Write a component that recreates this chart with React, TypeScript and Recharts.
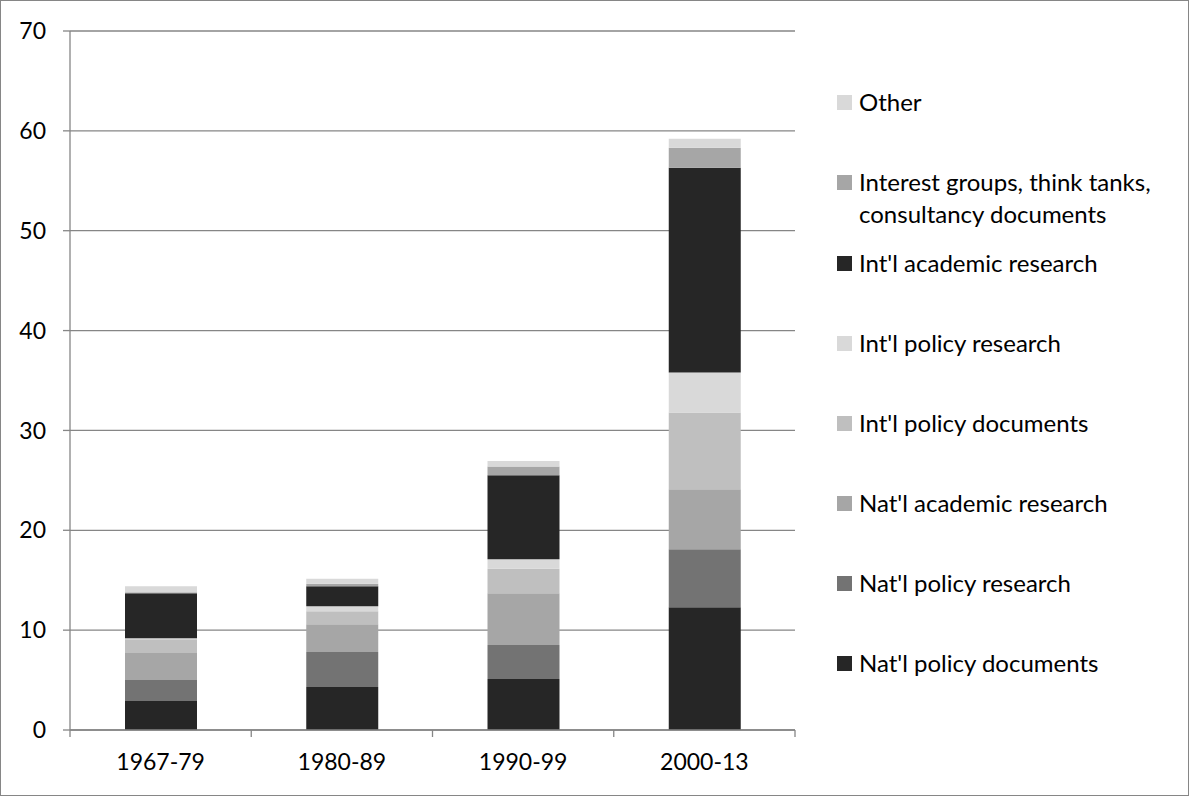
import React from 'react';
import { BarChart, Bar, XAxis, YAxis, CartesianGrid } from 'recharts';

const categories = ['1967-79', '1980-89', '1990-99', '2000-13'];
const natPolicyDocs = [2.9, 4.3, 5.1, 12.3];
const natPolicyResearch = [2.1, 3.5, 3.4, 5.8];
const natAcademic = [2.7, 2.8, 5.2, 6.0];
const intlPolicyDocs = [1.4, 1.3, 2.45, 7.7];
const intlPolicyResearch = [0.1, 0.5, 0.95, 4.0];
const intlAcademic = [4.5, 2.0, 8.4, 20.5];
const interestGroups = [0.1, 0.25, 0.9, 2.0];
const other = [0.6, 0.5, 0.55, 0.9];
const yTicks = [0, 10, 20, 30, 40, 50, 60, 70];

const series = [
  { key: 'npd', name: 'Nat\'l policy documents', values: natPolicyDocs, color: '#262626' },
  { key: 'npr', name: 'Nat\'l policy research', values: natPolicyResearch, color: '#737373' },
  { key: 'nar', name: 'Nat\'l academic research', values: natAcademic, color: '#a6a6a6' },
  { key: 'ipd', name: 'Int\'l policy documents', values: intlPolicyDocs, color: '#bfbfbf' },
  { key: 'ipr', name: 'Int\'l policy research', values: intlPolicyResearch, color: '#d9d9d9' },
  { key: 'iar', name: 'Int\'l academic research', values: intlAcademic, color: '#262626' },
  { key: 'ig', name: 'Interest groups, think tanks,\nconsultancy documents', values: interestGroups, color: '#a6a6a6' },
  { key: 'oth', name: 'Other', values: other, color: '#d9d9d9' },
];

const data = categories.map((c, i) => {
  const row: any = { cat: c };
  series.forEach((s) => (row[s.key] = s.values[i]));
  return row;
});

const FONT = 'Lato, "Liberation Sans", sans-serif';
const BW = 181.25;
const XTick = (props: any) => {
  const { x, y, payload, index } = props;
  return (
    <g>
      <line x1={x - BW / 2} x2={x - BW / 2} y1={y - 8} y2={y - 1} stroke="#868686" strokeWidth={1.3} />
      {index === categories.length - 1 && (
        <line x1={x + BW / 2} x2={x + BW / 2} y1={y - 8} y2={y - 1} stroke="#868686" strokeWidth={1.3} />
      )}
      <text x={x} y={y + 32} textAnchor="middle" fontSize={23} fontFamily={FONT} fill="#000">{payload.value}</text>
    </g>
  );
};

export default function App() {
  const legendCenters = [102, 182, 263, 343, 423, 503, 583, 663];
  return (
    <div style={{ position: 'absolute', left: 0, top: 0, width: 1189, height: 796, background: '#fff', fontFamily: FONT }}>
      <div style={{ position: 'absolute', left: 0, top: 0, width: 1187, height: 794, border: '1px solid #868686' }} />
      <BarChart width={1189} height={796} data={data} margin={{ top: 31, right: 394, left: 8, bottom: 26 }}>
        <CartesianGrid vertical={false} stroke="#868686" strokeWidth={1.3} />
        <XAxis dataKey="cat" tick={<XTick />} tickLine={false} axisLine={{ stroke: '#868686', strokeWidth: 1.3 }} height={40} interval={0} />
        <YAxis domain={[0, 70]} ticks={yTicks} width={62} axisLine={{ stroke: '#868686', strokeWidth: 1.3 }} tickLine={{ stroke: '#868686', strokeWidth: 1.3 }} tickSize={7} tickMargin={17} tick={{ fill: '#000', fontSize: 23, fontFamily: FONT }} />
        {series.map((s) => (
          <Bar key={s.key} dataKey={s.key} stackId="a" fill={s.color} barSize={72} isAnimationActive={false} />
        ))}
      </BarChart>
      {series.slice().reverse().map((s, i) => (
        <div key={s.key} style={{ position: 'absolute', left: 837, top: legendCenters[i] - 16, display: 'flex', alignItems: 'flex-start', fontSize: 24, color: '#000', lineHeight: '32px' }}>
          <div style={{ width: 15, height: 15, background: s.color, marginTop: 9, marginRight: 7 }} />
          <div style={{ whiteSpace: 'pre' }}>{s.name}</div>
        </div>
      ))}
    </div>
  );
}
